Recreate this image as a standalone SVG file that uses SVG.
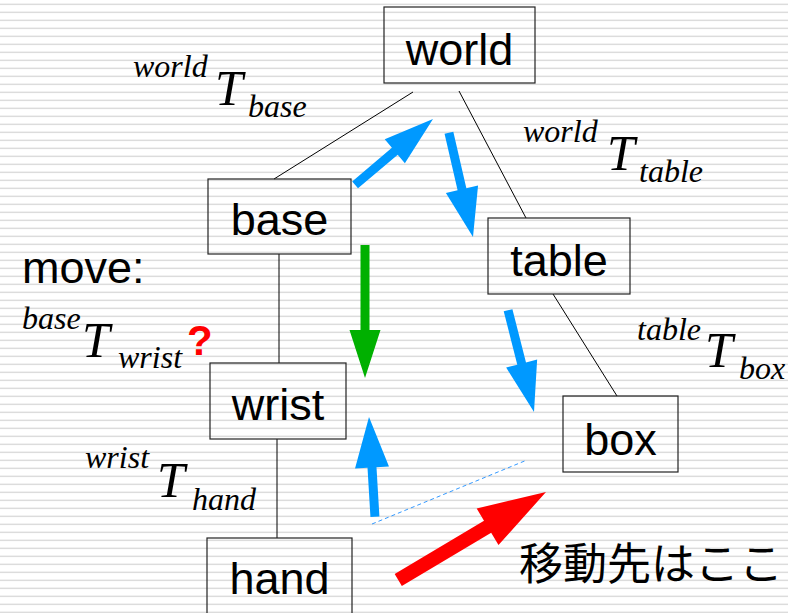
<svg xmlns="http://www.w3.org/2000/svg" width="788" height="613" viewBox="0 0 788 613">
<defs>
<pattern id="stripes" x="0" y="0" width="788" height="8" patternUnits="userSpaceOnUse">
<rect x="0" y="3.6" width="788" height="1.5" fill="#dcdcdc"/>
</pattern>
<style>
.box{fill:none;stroke:#222;stroke-width:1.2}
.lbl{font-family:"Liberation Sans",Arial,sans-serif;font-size:45px;fill:#000;text-anchor:middle}
.it{font-family:"Liberation Serif","Times New Roman",serif;font-style:italic;fill:#000}
.sm{font-size:32px}
.bg{font-size:50px}
.conn{stroke:#000;stroke-width:1;fill:none}
.blue{fill:#0099ff}
.green{fill:#00b000}
.red{fill:#ff0000}
</style>
</defs>
<rect width="788" height="613" fill="#ffffff"/>
<rect width="788" height="613" fill="url(#stripes)"/>

<g id="connectors">
<line class="conn" x1="413" y1="92" x2="274" y2="179"/>
<line class="conn" x1="459" y1="91" x2="526" y2="218"/>
<line class="conn" x1="279" y1="254" x2="279" y2="363"/>
<line class="conn" x1="277" y1="439" x2="277" y2="538"/>
<line class="conn" x1="553" y1="294" x2="617" y2="396"/>
<line x1="372" y1="524" x2="527" y2="460" stroke="#3399ff" stroke-width="1" stroke-dasharray="4,3"/>
</g>

<g id="arrows">
<polygon class="blue" transform="translate(433,119) rotate(-40.2)" points="0,0 -50,-15.6 -50,-4.5 -102,-4.5 -102,4.5 -50,4.5 -50,15.6"/>
<polygon class="blue" transform="translate(473,237) rotate(77)" points="0,0 -49,-16.5 -49,-4.5 -107,-4.5 -107,4.5 -49,4.5 -49,16.5"/>
<polygon class="blue" transform="translate(534,412) rotate(75.7)" points="0,0 -50,-16 -50,-4.5 -105,-4.5 -105,4.5 -50,4.5 -50,16"/>
<polygon class="blue" transform="translate(369,417) rotate(-93.4)" points="0,0 -50.6,-17 -50.6,-4.5 -100,-4.5 -100,4.5 -50.6,4.5 -50.6,17"/>
<polygon class="green" transform="translate(365,378) rotate(90)" points="0,0 -48,-15.5 -48,-4.5 -133,-4.5 -133,4.5 -48,4.5 -48,15.5"/>
<polygon class="red" transform="translate(546,492) rotate(-30.8)" points="0,0 -68,-21.3 -68,-7 -172,-7 -172,7 -68,7 -68,21.3"/>
</g>

<g id="node-world">
<rect class="box" x="384" y="7" width="151" height="76"/>
<text class="lbl" x="459.5" y="65">world</text>
</g>
<g id="node-base">
<rect class="box" x="208" y="179" width="143" height="75"/>
<text class="lbl" x="279.5" y="235">base</text>
</g>
<g id="node-table">
<rect class="box" x="488" y="218" width="142" height="76"/>
<text class="lbl" x="559" y="276">table</text>
</g>
<g id="node-wrist">
<rect class="box" x="210" y="363" width="136" height="76"/>
<text class="lbl" x="278" y="420">wrist</text>
</g>
<g id="node-box">
<rect class="box" x="563" y="396" width="115" height="76"/>
<text class="lbl" x="620.5" y="455">box</text>
</g>
<g id="node-hand">
<rect class="box" x="207" y="538" width="145" height="80"/>
<text class="lbl" x="279.5" y="594">hand</text>
</g>

<g id="labels">
<text class="it sm" x="133" y="77">world</text>
<text class="it bg" x="215" y="105">T</text>
<text class="it sm" x="248" y="117">base</text>

<text class="it sm" x="523" y="142">world</text>
<text class="it bg" x="607" y="170">T</text>
<text class="it sm" x="639" y="182">table</text>

<text x="22" y="283" font-family="Liberation Sans,Arial,sans-serif" font-size="45" fill="#000">move:</text>
<text class="it sm" x="22" y="329">base</text>
<text class="it bg" x="82" y="357">T</text>
<text class="it sm" x="118" y="368">wrist</text>
<text x="187" y="355" font-family="Liberation Sans,Arial,sans-serif" font-size="42" font-weight="bold" fill="#ff0000">?</text>

<text class="it sm" x="637" y="340">table</text>
<text class="it bg" x="705" y="367">T</text>
<text class="it sm" x="739" y="379">box</text>

<text class="it sm" x="85" y="468">wrist</text>
<text class="it bg" x="157" y="497">T</text>
<text class="it sm" x="192" y="510">hand</text>

<text x="519" y="580" font-family="'Noto Sans CJK JP','Noto Sans CJK SC',sans-serif" font-size="44" fill="#000">移動先はここ</text>
</g>
</svg>
